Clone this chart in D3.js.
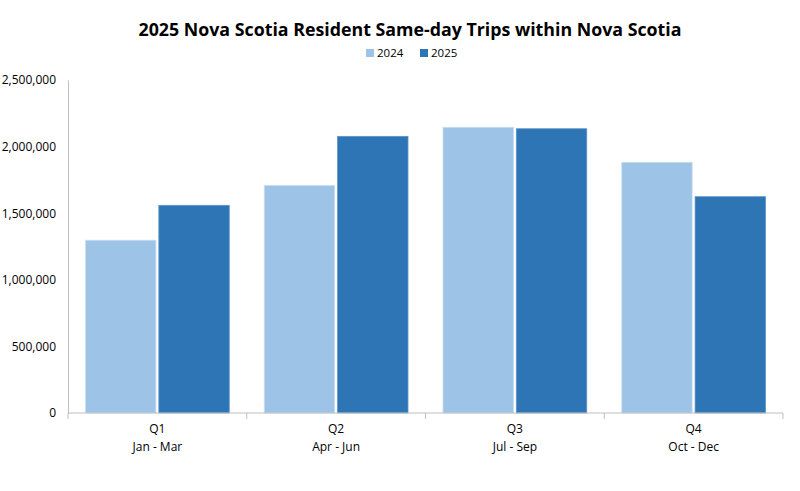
<!DOCTYPE html>
<html>
<head>
<meta charset="utf-8">
<script src="https://cdn.jsdelivr.net/npm/d3@7"></script>
<style>
body{margin:0;background:#fff;}
text{font-family:"Open Sans","Liberation Sans",sans-serif;fill:#000;}
</style>
</head>
<body>
<svg id="c" width="800" height="491"></svg>
<script>
const quarters = ["Q1","Q2","Q3","Q4"];
const months = ["Jan - Mar","Apr - Jun","Jul - Sep","Oct - Dec"];
const series = ["2024","2025"];
const values2024 = [1297000, 1709000, 2145000, 1882000];
const values2025 = [1559000, 2077000, 2134000, 1624000];
const yTicks = [0, 500000, 1000000, 1500000, 2000000, 2500000];
const colors = ["#9DC3E6", "#2E75B6"];

const svg = d3.select("#c");
const data = quarters.map((q,i)=>({q, vals:[values2024[i], values2025[i]]}));

const x0 = d3.scaleBand().domain(quarters).range([68, 783]).paddingInner(0).paddingOuter(0);
const x1 = d3.scaleBand().domain(series).range([17.5, x0.bandwidth()-17.5]).paddingInner(0.04);
const y = d3.scaleLinear().domain([0, 2500000]).range([413, 80]);

// title
svg.append("text").attr("x", 410).attr("y", 36).attr("text-anchor","middle")
  .style("font-size","17.8px").style("font-weight","bold")
  .text("2025 Nova Scotia Resident Same-day Trips within Nova Scotia");

// legend
const lg = svg.append("g");
const legX = [366, 420];
series.forEach((s,i)=>{
  lg.append("rect").attr("x", legX[i]).attr("y", 49).attr("width", 8).attr("height", 8).attr("fill", colors[i]);
  lg.append("text").attr("x", legX[i]+11).attr("y", 57).style("font-size","11.5px").text(s);
});

// y axis
const yAxis = svg.append("g").attr("transform","translate(68,0)")
  .call(d3.axisLeft(y).tickValues(yTicks).tickSize(0).tickPadding(12).tickFormat(d3.format(",")));
yAxis.select(".domain").attr("stroke","#bfbfbf");
yAxis.selectAll("text").style("font-size","12px").style("font-family",'"Open Sans","Liberation Sans",sans-serif');

// bars
const g = svg.append("g");
data.forEach(d=>{
  series.forEach((s,j)=>{
    g.append("rect")
      .attr("x", x0(d.q)+x1(s))
      .attr("y", y(d.vals[j]))
      .attr("width", x1.bandwidth())
      .attr("height", y(0)-y(d.vals[j]))
      .attr("fill", colors[j])
      .attr("stroke", j===0 ? "#c9def2" : "#5b93c8")
      .attr("stroke-width", 0.8);
  });
});

// x axis
const xAxis = svg.append("g").attr("transform","translate(0,413)")
  .call(d3.axisBottom(x0).tickSize(0).tickFormat(""));
xAxis.select(".domain").attr("stroke","#bfbfbf").attr("d","M68,0H783");
const bounds = [68].concat(quarters.map(q=>x0(q)+x0.bandwidth()));
svg.append("g").selectAll("line").data(bounds).join("line")
  .attr("x1",d=>d).attr("x2",d=>d).attr("y1",413).attr("y2",419)
  .attr("stroke","#bfbfbf");
const lab = svg.append("g");
quarters.forEach((q,i)=>{
  const cx = x0(q)+x0.bandwidth()/2;
  lab.append("text").attr("x",cx).attr("y",433).attr("text-anchor","middle").style("font-size","12px").text(q);
  lab.append("text").attr("x",cx).attr("y",451).attr("text-anchor","middle").style("font-size","12px").text(months[i]);
});
</script>
</body>
</html>
